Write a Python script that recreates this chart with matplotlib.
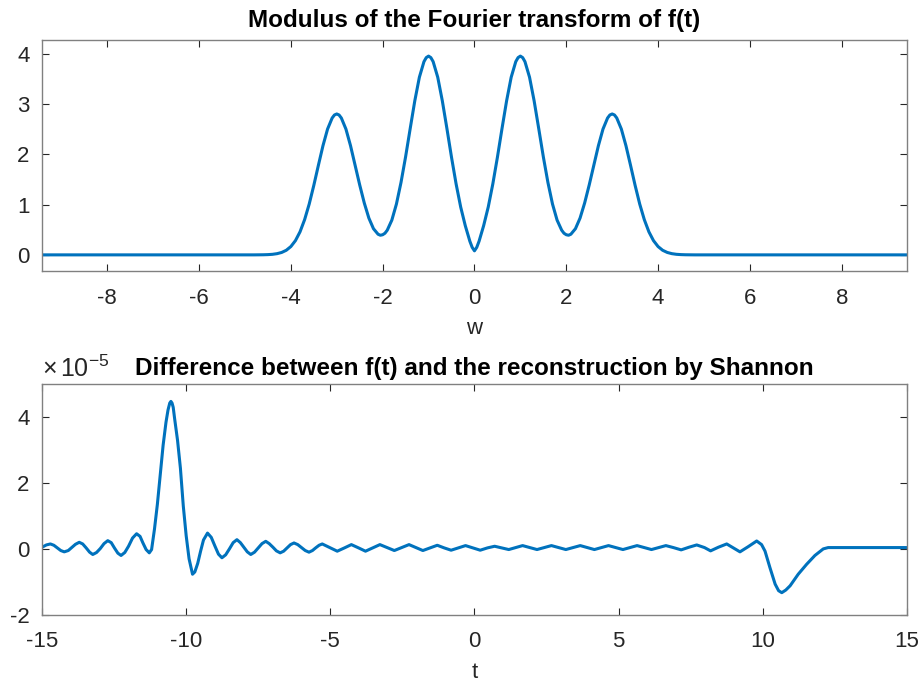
import numpy as np
import matplotlib.pyplot as plt

# |F(w)|
w = [-9.42, -4.8, -4.6, -4.5, -4.4, -4.3, -4.2, -4.1, -4.0, -3.9, -3.8, -3.7, -3.6,
     -3.5, -3.4, -3.3, -3.2, -3.1, -3.05, -3.0, -2.95, -2.9, -2.8, -2.7, -2.6, -2.5, -2.4, -2.3,
     -2.2, -2.1, -2.05, -2.0, -1.95, -1.9, -1.8, -1.7, -1.6, -1.5, -1.4, -1.3, -1.2, -1.1,
     -1.05, -1.0, -0.95, -0.9, -0.8, -0.7, -0.6, -0.5, -0.4, -0.3, -0.2, -0.1, -0.05, 0.0,
     0.05, 0.1, 0.2, 0.3, 0.4, 0.5, 0.6, 0.7, 0.8, 0.9, 0.95, 1.0, 1.05, 1.1, 1.2, 1.3,
     1.4, 1.5, 1.6, 1.7, 1.8, 1.9, 1.95, 2.0, 2.05, 2.1, 2.2, 2.3, 2.4, 2.5, 2.6, 2.7,
     2.8, 2.9, 2.95, 3.0, 3.05, 3.1, 3.2, 3.3, 3.4, 3.5, 3.6, 3.7, 3.8, 3.9, 4.0, 4.1,
     4.2, 4.3, 4.4, 4.5, 4.6, 4.8, 9.42]
Fw = [0.0, 0.0, 0.002, 0.005, 0.011, 0.024, 0.048, 0.091, 0.165, 0.283, 0.458, 0.70, 1.01,
      1.38, 1.78, 2.17, 2.50, 2.72, 2.78, 2.80, 2.78, 2.72, 2.50, 2.17, 1.78, 1.39, 1.03, 0.73,
      0.52, 0.41, 0.39, 0.40, 0.43, 0.49, 0.69, 1.01, 1.44, 1.95, 2.51, 3.06, 3.53, 3.84,
      3.92, 3.95, 3.92, 3.84, 3.53, 3.06, 2.51, 1.94, 1.41, 0.95, 0.58, 0.27, 0.15, 0.08,
      0.15, 0.27, 0.58, 0.95, 1.41, 1.94, 2.51, 3.06, 3.53, 3.84, 3.92, 3.95, 3.92, 3.84, 3.53, 3.06,
      2.51, 1.95, 1.44, 1.01, 0.69, 0.49, 0.43, 0.40, 0.39, 0.41, 0.52, 0.73, 1.03, 1.39, 1.78, 2.17,
      2.50, 2.72, 2.78, 2.80, 2.78, 2.72, 2.50, 2.17, 1.78, 1.38, 1.01, 0.70, 0.458, 0.283, 0.165, 0.091,
      0.048, 0.024, 0.011, 0.005, 0.002, 0.0, 0.0]

# difference f(t) - Shannon reconstruction, in units of 1e-5
t = [-15.00, -14.85, -14.71, -14.59, -14.47, -14.35, -14.23, -14.09, -13.97, -13.84,
     -13.71, -13.59, -13.47, -13.35, -13.24, -13.11, -12.98, -12.85, -12.72, -12.60,
     -12.49, -12.37, -12.26, -12.13, -12.00, -11.86, -11.72, -11.60, -11.50, -11.39,
     -11.28, -11.20, -11.10, -11.00, -10.90, -10.80, -10.70, -10.63, -10.57, -10.53,
     -10.49, -10.45, -10.40, -10.30, -10.20, -10.10, -10.00, -9.90, -9.78, -9.70,
     -9.60, -9.50, -9.40, -9.26, -9.13, -9.00, -8.88, -8.76, -8.63, -8.50,
     -8.37, -8.24, -8.12, -8.00, -7.88, -7.76, -7.63, -7.50, -7.37, -7.24,
     -7.12, -6.99, -6.87, -6.74, -6.62, -6.50, -6.38, -6.26, -6.13, -6.00,
     -5.87, -5.74, -5.62, -5.51, -5.39, -5.28, -5.02, -4.76, -4.51, -4.27,
     -4.02, -3.78, -3.53, -3.28, -3.03, -2.78, -2.53, -2.27, -2.03, -1.79,
     -1.54, -1.29, -1.05, -0.81, -0.56, -0.31, -0.06, 0.20, 0.45, 0.70,
     0.94, 1.19, 1.43, 1.67, 1.92, 2.17, 2.42, 2.67, 2.92, 3.17,
     3.42, 3.67, 3.91, 4.16, 4.40, 4.65, 4.90, 5.15, 5.40, 5.64,
     5.89, 6.14, 6.39, 6.64, 6.90, 7.17, 7.44, 7.71, 7.98, 8.19,
     8.46, 8.75, 8.98, 9.21, 9.50, 9.79, 9.96, 10.08, 10.25, 10.43,
     10.55, 10.66, 10.80, 10.95, 11.23, 11.52, 11.81, 12.10, 12.27, 12.60,
     13.50, 15.00]
d = [0.05, 0.12, 0.15, 0.11, 0.03, -0.05, -0.09, -0.05, 0.04, 0.14,
     0.20, 0.15, 0.03, -0.10, -0.17, -0.11, 0.01, 0.16, 0.25, 0.19,
     0.03, -0.13, -0.20, -0.11, 0.08, 0.33, 0.46, 0.38, 0.18, -0.02,
     -0.12, -0.02, 0.60, 1.35, 2.25, 3.15, 3.85, 4.22, 4.43, 4.48,
     4.43, 4.30, 3.95, 3.30, 2.45, 1.30, 0.40, -0.30, -0.77, -0.70,
     -0.44, -0.07, 0.27, 0.48, 0.35, 0.08, -0.16, -0.27, -0.18, 0.00,
     0.19, 0.28, 0.19, 0.05, -0.09, -0.17, -0.10, 0.03, 0.16, 0.23,
     0.16, 0.05, -0.06, -0.12, -0.07, 0.03, 0.13, 0.18, 0.13, 0.04,
     -0.05, -0.10, -0.05, 0.03, 0.11, 0.15, 0.04, -0.07, 0.03, 0.13,
     0.03, -0.07, 0.03, 0.13, 0.04, -0.05, 0.04, 0.13, 0.04, -0.05,
     0.03, 0.11, 0.03, -0.04, 0.03, 0.10, 0.03, -0.04, 0.03, 0.08,
     0.03, -0.02, 0.04, 0.10, 0.04, -0.02, 0.04, 0.10, 0.04, -0.02,
     0.04, 0.10, 0.04, -0.02, 0.04, 0.10, 0.04, -0.02, 0.04, 0.10,
     0.04, -0.02, 0.04, 0.10, 0.04, -0.03, 0.05, 0.12, 0.04, -0.06,
     0.05, 0.15, 0.03, -0.09, 0.07, 0.24, 0.13, -0.07, -0.57, -1.07,
     -1.27, -1.33, -1.25, -1.12, -0.77, -0.47, -0.20, 0.00, 0.04, 0.04,
     0.04, 0.04]

plt.rcParams['font.family'] = ['Liberation Sans', 'DejaVu Sans']
plt.rcParams['mathtext.fontset'] = 'custom'
plt.rcParams['mathtext.rm'] = 'Liberation Sans'
plt.rcParams['mathtext.it'] = 'Liberation Sans'
plt.rcParams['axes.unicode_minus'] = False

blue = '#0072BD'
grey = '#262626'

fig = plt.figure(figsize=(9.22, 6.86), dpi=100)
ax1 = fig.add_axes([0.0456, 0.605, 0.938, 0.3367])
ax2 = fig.add_axes([0.0456, 0.1039, 0.938, 0.3359])

ax1.plot(w, Fw, color=blue, lw=2.2)
ax1.set_xlim(-9.42, 9.42)
ax1.set_ylim(-0.32, 4.27)
ax1.set_xticks(np.arange(-8, 9, 2))
ax1.set_yticks(np.arange(0, 5, 1))
ax1.set_title('Modulus of the Fourier transform of f(t)', fontsize=17.5, fontweight='bold', pad=9)
ax1.set_xlabel('w', fontsize=16, color=grey, labelpad=7)

ax2.plot(t, d, color=blue, lw=2.2)
ax2.set_xlim(-15, 15)
ax2.set_ylim(-2, 5)
ax2.set_xticks(np.arange(-15, 16, 5))
ax2.set_yticks(np.arange(-2, 5, 2))
ax2.text(0, 1.01, r'$\times\,$10$^{\mathregular{-5}}$', transform=ax2.transAxes,
         fontsize=18, color=grey, ha='left', va='bottom')
ax2.set_title('Difference between f(t) and the reconstruction by Shannon', fontsize=17.5,
              fontweight='bold', pad=7)
ax2.set_xlabel('t', fontsize=16, color=grey, labelpad=7)

for ax in (ax1, ax2):
    ax.tick_params(direction='in', length=5, width=0.8, top=True, right=True,
                   labelsize=16, colors=grey, pad=12)
    ax.tick_params(axis='y', pad=9)
    for s in ax.spines.values():
        s.set_color('#808080')
        s.set_linewidth(1.0)

plt.savefig('out.png', dpi=100)
